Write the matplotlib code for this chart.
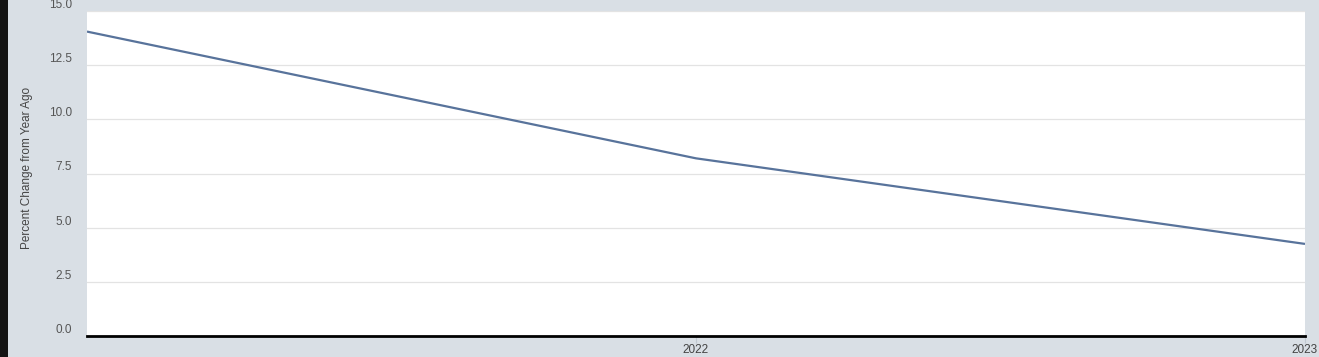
import matplotlib
matplotlib.use("Agg")
import matplotlib.pyplot as plt
import datetime as dt

years = [2021, 2022, 2023]
values = [14.05, 8.2, 4.25]
y_ticks = [0.0, 2.5, 5.0, 7.5, 10.0, 12.5, 15.0]
x_tick_years = [2022, 2023]

plt.rcParams["font.family"] = ["Liberation Sans", "DejaVu Sans"]

fig = plt.figure(figsize=(13.19, 3.57), dpi=100)
fig.patch.set_facecolor("#d9dfe5")
# dark strip at left edge
fig.add_artist(plt.Rectangle((0, 0), 8 / 1319, 1, transform=fig.transFigure,
                             facecolor="#141414", edgecolor="none"))

ax = fig.add_axes([87 / 1319, 21 / 357, (1305 - 87) / 1319, (336 - 11) / 357])
ax.set_facecolor("white")

dates = [dt.date(y, 1, 1) for y in years]
ax.plot(dates, values, color="#58739b", linewidth=1.6, solid_capstyle="butt")

ax.set_xlim(dt.date(years[0], 1, 1), dt.date(years[-1], 1, 1))
ax.set_ylim(0, 15)
ax.set_yticks(y_ticks)
ax.set_yticklabels([f"{v:.1f}" for v in y_ticks])
ax.yaxis.grid(True, color="#e3e3e3", linewidth=0.9)
ax.set_axisbelow(True)
ax.tick_params(axis="y", length=0, pad=11, labelsize=8.5, labelcolor="#555555")
for lab in ax.get_yticklabels():
    lab.set_verticalalignment("bottom")

ax.set_xticks([dt.date(y, 1, 1) for y in x_tick_years])
ax.set_xticklabels([str(y) for y in x_tick_years])
ax.tick_params(axis="x", length=5, width=0.8, color="#c0c8d0", pad=1,
               labelsize=8.5, labelcolor="#444444")

for s in ["top", "right", "left"]:
    ax.spines[s].set_visible(False)
ax.spines["bottom"].set_color("black")
ax.spines["bottom"].set_linewidth(2)

fig.text(27 / 1319, (357 - 168) / 357, "Percent Change from Year Ago", rotation=90,
         ha="center", va="center", fontsize=8.5, color="#444444")

fig.savefig("out.png", dpi=100, facecolor=fig.get_facecolor())
